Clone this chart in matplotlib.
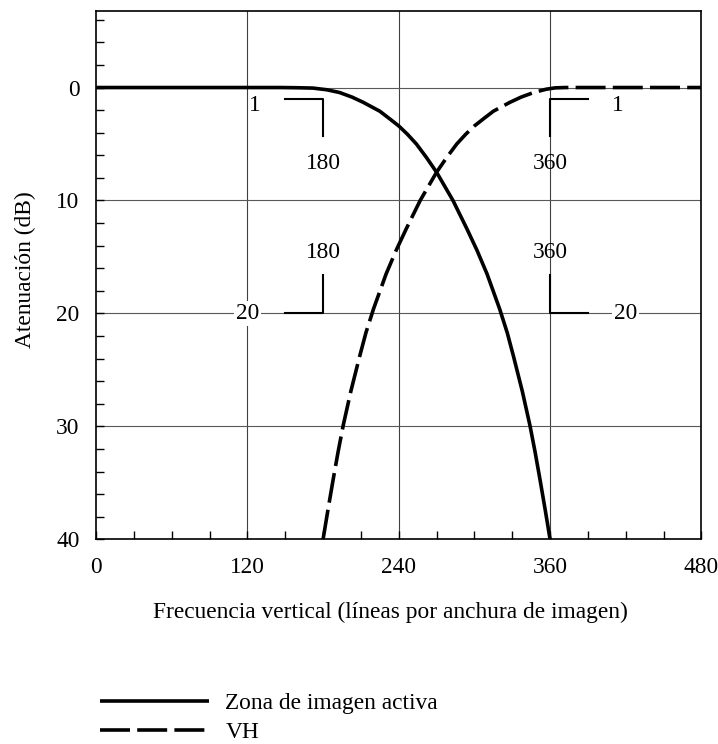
import matplotlib
matplotlib.use("Agg")
import matplotlib.pyplot as plt
import numpy as np

plt.rcParams['font.family'] = ['Liberation Serif', 'DejaVu Serif']

# Data
activa_x = [0, 120, 146, 160, 172, 183, 193, 203, 212, 225, 232, 240, 247, 254, 262, 270, 283, 294,
            302, 310, 320, 326, 331, 338, 344, 348, 352, 356, 360]
activa_y = [0, 0, 0, 0.02, 0.05, 0.2, 0.44, 0.85, 1.32, 2.1, 2.7, 3.4, 4.15, 5.0, 6.2, 7.5, 10.0, 12.5,
            14.4, 16.5, 19.6, 21.7, 23.8, 26.9, 29.9, 32.2, 34.7, 37.3, 40.0]
vh_x = [180, 184, 188, 192, 196, 202, 209, 214, 220, 230, 238, 246, 257, 270, 278, 286,
        293, 300, 308, 315, 328, 337, 347, 357, 364, 372, 480]
vh_y = [40.0, 37.3, 34.7, 32.2, 29.9, 26.9, 23.8, 21.7, 19.6, 16.5, 14.4, 12.5, 10.0, 7.5, 6.2, 5.0,
        4.15, 3.4, 2.7, 2.1, 1.32, 0.85, 0.44, 0.15, 0.03, 0, 0]
series_labels = ["Zona de imagen activa", "VH"]
x_ticks = [0, 120, 240, 360, 480]
y_ticks = [0, 10, 20, 30, 40]
xlabel = "Frecuencia vertical (líneas por anchura de imagen)"
ylabel = "Atenuación (dB)"

FS = 16.8

fig = plt.figure(figsize=(7.18, 7.44), dpi=100)
ax = fig.add_axes([0.1338, 0.2751, 0.8431, 0.7105])

ax.set_xlim(0, 480)
ax.set_ylim(40, -6.8)

# grid
for gx in [120, 240, 360]:
    ax.axvline(gx, color='0.25', lw=0.8, zorder=1)
for gy in [0, 10, 20, 30]:
    ax.axhline(gy, color='0.35', lw=0.8, zorder=1)

LW = 2.6
l1, = ax.plot(activa_x, activa_y, color='black', lw=LW, zorder=3,
              solid_capstyle='butt', solid_joinstyle='round', label=series_labels[0])
l2, = ax.plot(vh_x, vh_y, color='black', lw=LW, zorder=3,
              dashes=(8.3, 2.0), dash_capstyle='butt', dash_joinstyle='round',
              label=series_labels[1])

# brackets
bk = dict(color='black', lw=1.5, zorder=2)
ax.plot([150, 180, 180], [1.0, 1.0, 4.3], **bk)
ax.plot([390, 360, 360], [1.0, 1.0, 4.3], **bk)
ax.plot([150, 180, 180], [20, 20, 16.6], **bk)
ax.plot([390, 360, 360], [20, 20, 16.6], **bk)

tk = dict(fontsize=FS, ha='center', va='center', zorder=4)
ax.text(126, 1.6, "1", **tk)
ax.text(414, 1.6, "1", **tk)
ax.text(180, 6.7, "180", **tk)
ax.text(360, 6.7, "360", **tk)
ax.text(180, 14.6, "180", **tk)
ax.text(360, 14.6, "360", **tk)
bb = dict(boxstyle='square,pad=0.08', fc='white', ec='none')
ax.text(120, 20, "20", bbox=bb, **tk)
ax.text(420, 20, "20", bbox=bb, **tk)

# ticks
ax.set_xticks(x_ticks)
ax.set_yticks(y_ticks)
ax.set_xticks(np.arange(0, 481, 30), minor=True)
ax.set_yticks(np.arange(-6, 41, 2), minor=True)
ax.tick_params(axis='both', which='both', direction='in', length=6, width=1.0,
               labelsize=FS, top=False, right=False)
ax.tick_params(axis='x', which='major', pad=13)
ax.tick_params(axis='y', which='major', pad=12)
for s in ax.spines.values():
    s.set_linewidth(1.2)

ax.set_xlabel(xlabel, fontsize=FS, va='center')
ax.xaxis.set_label_coords(0.486, -0.1375)
ax.set_ylabel(ylabel, fontsize=FS, va='center')
ax.yaxis.set_label_coords(-0.117, 0.511)

fig.legend(handles=[l1, l2], loc='upper left',
           bbox_to_anchor=(100 / 718, 1 - 693 / 744),
           frameon=False, fontsize=FS, handlelength=4.65, handletextpad=0.72,
           borderpad=0, borderaxespad=0, labelspacing=0.3)

fig.savefig("out.png", dpi=100)
